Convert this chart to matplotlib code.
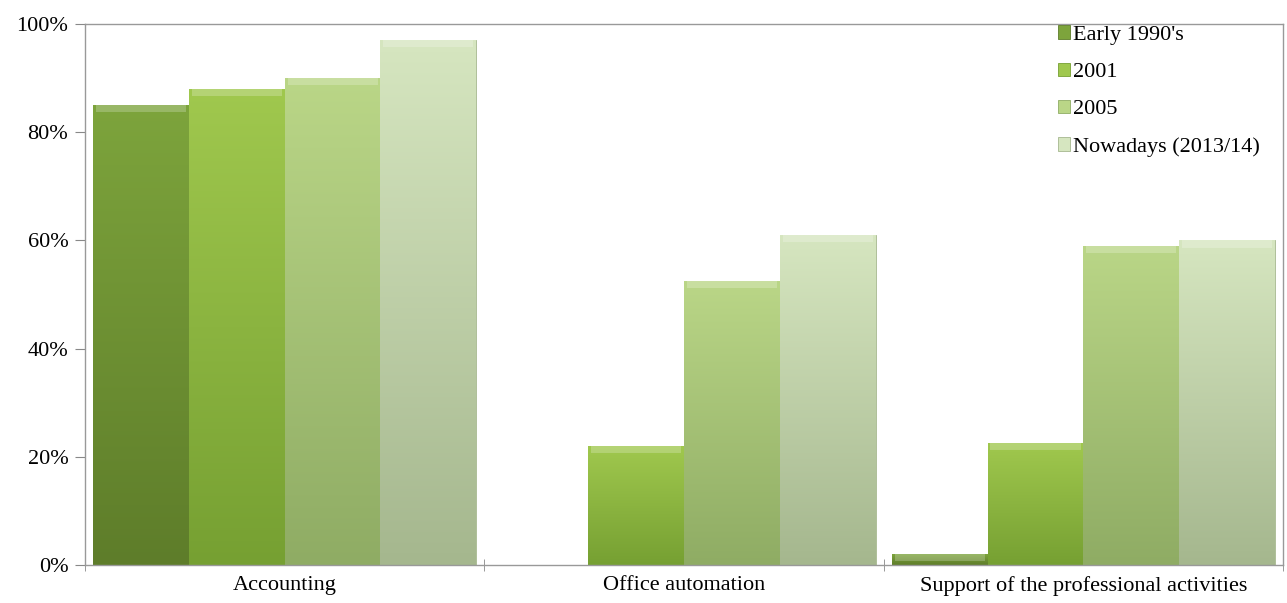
import matplotlib.pyplot as plt
import matplotlib.colors as mcolors
import numpy as np

categories = ["Accounting", "Office automation", "Support of the professional activities"]
series = ["Early 1990's", "2001", "2005", "Nowadays (2013/14)"]
early_90s = [85, 0, 2]
y2001 = [88, 22, 22.5]
y2005 = [90, 52.5, 59]
nowadays = [97, 61, 60]

# top / bottom shade of each series gradient
tops = ["#7da43c", "#a0c84e", "#bad687", "#d6e6c0"]
bottoms = ["#5e7d2a", "#76a032", "#8fac64", "#a5b78e"]

plt.rcParams['font.family'] = ['Liberation Serif', 'DejaVu Serif']

fig = plt.figure(figsize=(12.87, 6.03), dpi=100)
ax = fig.add_axes([0.066, 0.063, 0.931, 0.897])

x = np.arange(len(categories))
width = 0.24
offsets = [-0.36, -0.12, 0.12, 0.36]
grad = np.linspace(0, 1, 256).reshape(-1, 1)

for vals, name, top, bot, off in zip([early_90s, y2001, y2005, nowadays], series, tops, bottoms, offsets):
    bars = ax.bar(x + off, vals, width, color=top, label=name,
                  edgecolor=bot, linewidth=0.6, zorder=2)
    cmap = mcolors.LinearSegmentedColormap.from_list("g", [bot, top])
    for b in bars:
        h = b.get_height()
        if h <= 0:
            continue
        bx = b.get_x()
        im = ax.imshow(grad, cmap=cmap, aspect="auto", origin="lower",
                       extent=[bx, bx + width, 0, h], zorder=2.1)
        im.set_clip_path(b)
        # soft bevel on the top edge
        bh = min(1.3, h)
        ax.bar(bx + width / 2, bh, width * 0.94, bottom=h - bh,
               color="white", alpha=0.22, linewidth=0, zorder=2.2)

ax.set_xlim(-0.5, 2.5)
ax.set_ylim(0, 100)
ax.set_yticks([0, 20, 40, 60, 80, 100])
ax.set_yticklabels(["0%", "20%", "40%", "60%", "80%", "100%"])
ax.set_xticks(x)
ax.set_xticklabels(categories)
ax.set_xticks([-0.5, 0.5, 1.5, 2.5], minor=True)
ax.tick_params(axis="x", which="major", length=0, labelsize=16, pad=8)
ax.tick_params(axis="x", which="minor", length=8, direction="inout", color="#888888")
ax.tick_params(axis="y", length=7, color="#888888", labelsize=16, pad=5)

for s in ax.spines.values():
    s.set_color("#999999")
    s.set_linewidth(1)

ax.legend(loc="upper right", bbox_to_anchor=(0.997, 1.035), frameon=False, fontsize=16,
          handlelength=0.55, handleheight=0.55, handletextpad=0.1, labelspacing=0.8)

fig.savefig("out.png", dpi=100)
